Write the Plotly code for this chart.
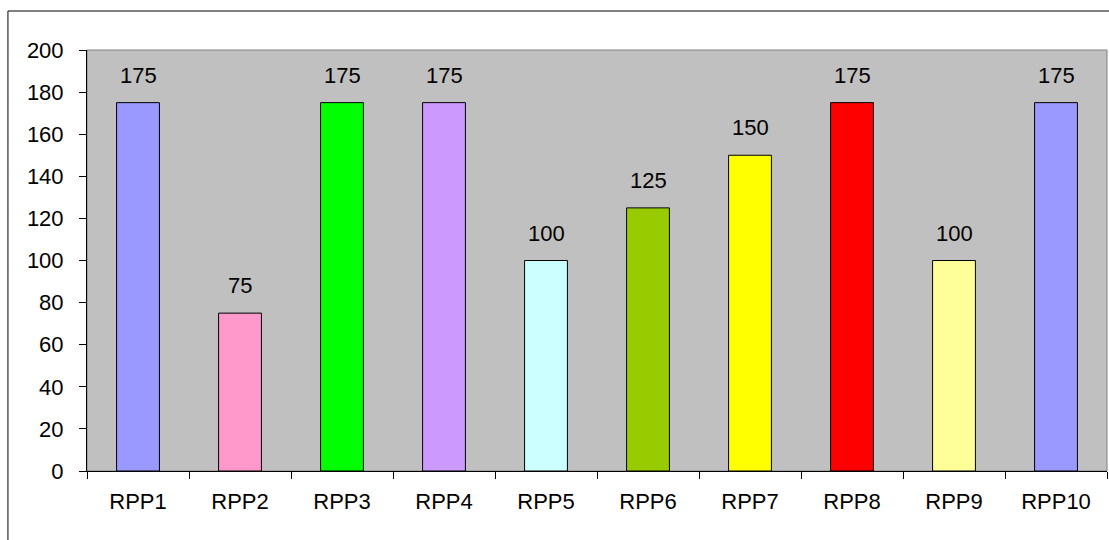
import plotly.graph_objects as go

categories = ["RPP1", "RPP2", "RPP3", "RPP4", "RPP5", "RPP6", "RPP7", "RPP8", "RPP9", "RPP10"]
values = [175, 75, 175, 175, 100, 125, 150, 175, 100, 175]
bar_colors = ["#9999FF", "#FF99CC", "#00FF00", "#CC99FF", "#CCFFFF",
              "#99CC00", "#FFFF00", "#FF0000", "#FFFF99", "#9999FF"]
y_ticks = list(range(0, 201, 20))

FONT = dict(family="Liberation Sans, Arial, sans-serif", size=22, color="black")

fig = go.Figure()
fig.add_trace(go.Bar(
    x=categories,
    y=values,
    width=0.42,
    marker=dict(color=bar_colors, line=dict(color="black", width=1)),
    hoverinfo="x+y",
))

# value labels above each bar
for c, v in zip(categories, values):
    fig.add_annotation(x=c, y=v, text=str(v), showarrow=False,
                       yanchor="bottom", yshift=13, font=FONT)

# plot-area frame and the outer chart border
fig.add_shape(type="rect", xref="paper", yref="paper", x0=0, y0=0, x1=1, y1=1,
              line=dict(color="#808080", width=1), layer="below")
fig.add_shape(type="rect", xref="paper", yref="paper",
              x0=-0.0775, y0=-0.3, x1=1.2, y1=1.0926,
              line=dict(color="black", width=1))

fig.update_layout(
    width=1109, height=540,
    margin=dict(l=87, r=2, t=50, b=69),
    paper_bgcolor="white",
    plot_bgcolor="#C0C0C0",
    font=FONT,
    showlegend=False,
    bargap=0.58,
)
fig.update_xaxes(
    type="category",
    showline=True, linecolor="black", linewidth=1,
    ticks="outside", ticklen=7, tickcolor="black", tickson="boundaries",
    ticklabelstandoff=11,
    showgrid=False, zeroline=False,
    tickfont=FONT,
)
fig.update_yaxes(
    range=[0, 200], tickvals=y_ticks,
    showline=True, linecolor="black", linewidth=1,
    ticks="outside", ticklen=7, tickcolor="black",
    ticklabelstandoff=11,
    showgrid=False, zeroline=False,
    tickfont=FONT,
)

fig.write_html("out.html")
